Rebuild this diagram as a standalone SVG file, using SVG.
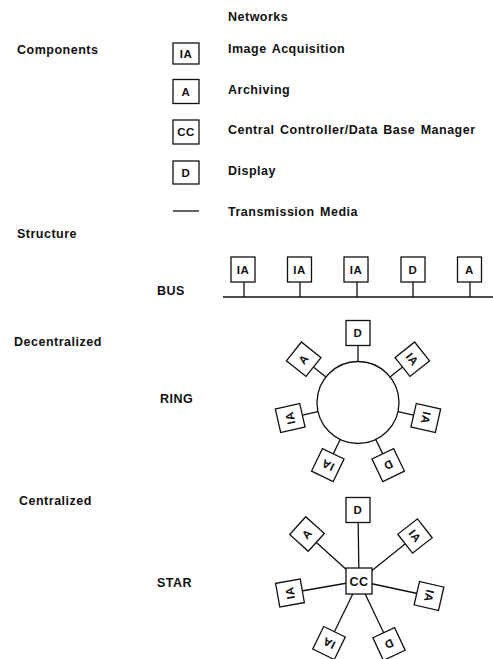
<svg xmlns="http://www.w3.org/2000/svg" width="493" height="659" viewBox="0 0 493 659">
<style>
.t{font-family:"Liberation Sans",Arial,sans-serif;font-weight:bold;font-size:12.5px;letter-spacing:0.5px;word-spacing:1.5px;fill:#111}
.b rect{fill:#fff;stroke:#111;stroke-width:1.3}
.b text{font-family:"Liberation Sans",Arial,sans-serif;font-weight:bold;font-size:11.5px;fill:#111;text-anchor:middle;letter-spacing:0.5px}
.c line,.c circle{stroke:#111;stroke-width:1.3;fill:none}
</style>
<rect width="493" height="659" fill="#fff"/>
<g id="labels">
<text class="t" x="228" y="21">Networks</text>
<text class="t" x="17" y="54">Components</text>
<text class="t" x="228" y="53">Image Acquisition</text>
<text class="t" x="228" y="94">Archiving</text>
<text class="t" x="228" y="134">Central Controller/Data Base Manager</text>
<text class="t" x="228" y="175">Display</text>
<text class="t" x="228" y="216">Transmission Media</text>
<text class="t" x="17" y="238">Structure</text>
<text class="t" x="157" y="295">BUS</text>
<text class="t" x="14" y="346">Decentralized</text>
<text class="t" x="160" y="403">RING</text>
<text class="t" x="19" y="505">Centralized</text>
<text class="t" x="157" y="587">STAR</text>
</g>
<g id="legend">
<g id="leg-ia" class="b" transform="translate(186,53.5)"><rect x="-13" y="-10.5" width="26" height="21"/><text y="4">IA</text></g>
<g id="leg-a" class="b" transform="translate(186,91.5)"><rect x="-13" y="-12" width="26" height="24"/><text y="4">A</text></g>
<g id="leg-cc" class="b" transform="translate(186,132)"><rect x="-13" y="-12" width="26" height="24"/><text y="4">CC</text></g>
<g id="leg-d" class="b" transform="translate(186,172.5)"><rect x="-13" y="-11.5" width="26" height="23"/><text y="4">D</text></g>
<g class="c"><line x1="173" y1="211" x2="199" y2="211"/></g>
</g>
<g id="connectors" class="c">
<line x1="223" y1="297" x2="493" y2="297"/>
<line x1="244" y1="282" x2="244" y2="297"/>
<line x1="300" y1="282" x2="300" y2="297"/>
<line x1="357" y1="282" x2="357" y2="297"/>
<line x1="413" y1="282" x2="413" y2="297"/>
<line x1="470" y1="282" x2="470" y2="297"/>
<circle cx="358" cy="402.5" r="41"/>
<line x1="358" y1="361.5" x2="358" y2="345.5"/>
<line x1="390.05" y1="376.94" x2="402.56" y2="366.96"/>
<line x1="397.97" y1="411.62" x2="413.57" y2="415.18"/>
<line x1="375.79" y1="439.44" x2="382.73" y2="453.86"/>
<line x1="340.21" y1="439.44" x2="333.27" y2="453.86"/>
<line x1="318.03" y1="411.62" x2="302.43" y2="415.18"/>
<line x1="325.95" y1="376.94" x2="313.44" y2="366.96"/>
<line x1="359" y1="581" x2="358" y2="510"/>
<line x1="359" y1="581" x2="307" y2="534"/>
<line x1="359" y1="581" x2="415" y2="536"/>
<line x1="359" y1="581" x2="429" y2="596"/>
<line x1="359" y1="581" x2="290" y2="593"/>
<line x1="359" y1="581" x2="329" y2="643"/>
<line x1="359" y1="581" x2="389" y2="644"/>
</g>
<g id="bus">
<g id="bus-ia1" class="b" transform="translate(243,269.5)"><rect x="-12" y="-12.5" width="24" height="25"/><text y="4">IA</text></g>
<g id="bus-ia2" class="b" transform="translate(299.5,269.5)"><rect x="-12" y="-12.5" width="24" height="25"/><text y="4">IA</text></g>
<g id="bus-ia3" class="b" transform="translate(356,269.5)"><rect x="-12" y="-12.5" width="24" height="25"/><text y="4">IA</text></g>
<g id="bus-d" class="b" transform="translate(413,269.5)"><rect x="-12" y="-12.5" width="24" height="25"/><text y="4">D</text></g>
<g id="bus-a" class="b" transform="translate(469.5,269.5)"><rect x="-12" y="-12.5" width="24" height="25"/><text y="4">A</text></g>
</g>
<g id="ring">
<g id="ring-d1" class="b" transform="translate(358,333)"><rect x="-12" y="-12.5" width="24" height="25"/><text y="4">D</text></g>
<g id="ring-ia1" class="b" transform="translate(412.3,359.2) rotate(51.43)"><rect x="-12" y="-12.5" width="24" height="25"/><text y="4">IA</text></g>
<g id="ring-ia2" class="b" transform="translate(425.8,418) rotate(102.86)"><rect x="-12" y="-12.5" width="24" height="25"/><text y="4">IA</text></g>
<g id="ring-d2" class="b" transform="translate(388.2,465.1) rotate(154.29)"><rect x="-12" y="-12.5" width="24" height="25"/><text y="4">D</text></g>
<g id="ring-ia3" class="b" transform="translate(327.8,465.1) rotate(-154.29)"><rect x="-12" y="-12.5" width="24" height="25"/><text y="4">IA</text></g>
<g id="ring-ia4" class="b" transform="translate(290.2,418) rotate(-102.86)"><rect x="-12" y="-12.5" width="24" height="25"/><text y="4">IA</text></g>
<g id="ring-a" class="b" transform="translate(303.7,359.2) rotate(-51.43)"><rect x="-12" y="-12.5" width="24" height="25"/><text y="4">A</text></g>
</g>
<g id="star">
<g id="star-cc" class="b" transform="translate(359,581)"><rect x="-13" y="-13" width="26" height="26"/><text y="4.5" style="font-size:12.5px">CC</text></g>
<g id="star-d1" class="b" transform="translate(358,510)"><rect x="-12" y="-12.5" width="24" height="25"/><text y="4">D</text></g>
<g id="star-ia1" class="b" transform="translate(415,536) rotate(52)"><rect x="-12" y="-12.5" width="24" height="25"/><text y="4">IA</text></g>
<g id="star-ia2" class="b" transform="translate(429,596) rotate(103)"><rect x="-12" y="-12.5" width="24" height="25"/><text y="4">IA</text></g>
<g id="star-d2" class="b" transform="translate(389,644) rotate(155)"><rect x="-12" y="-12.5" width="24" height="25"/><text y="4">D</text></g>
<g id="star-ia3" class="b" transform="translate(329,643) rotate(-154)"><rect x="-12" y="-12.5" width="24" height="25"/><text y="4">IA</text></g>
<g id="star-ia4" class="b" transform="translate(290,593) rotate(-100)"><rect x="-12" y="-12.5" width="24" height="25"/><text y="4">IA</text></g>
<g id="star-a" class="b" transform="translate(307,534) rotate(-48)"><rect x="-12" y="-12.5" width="24" height="25"/><text y="4">A</text></g>
</g>
</svg>
